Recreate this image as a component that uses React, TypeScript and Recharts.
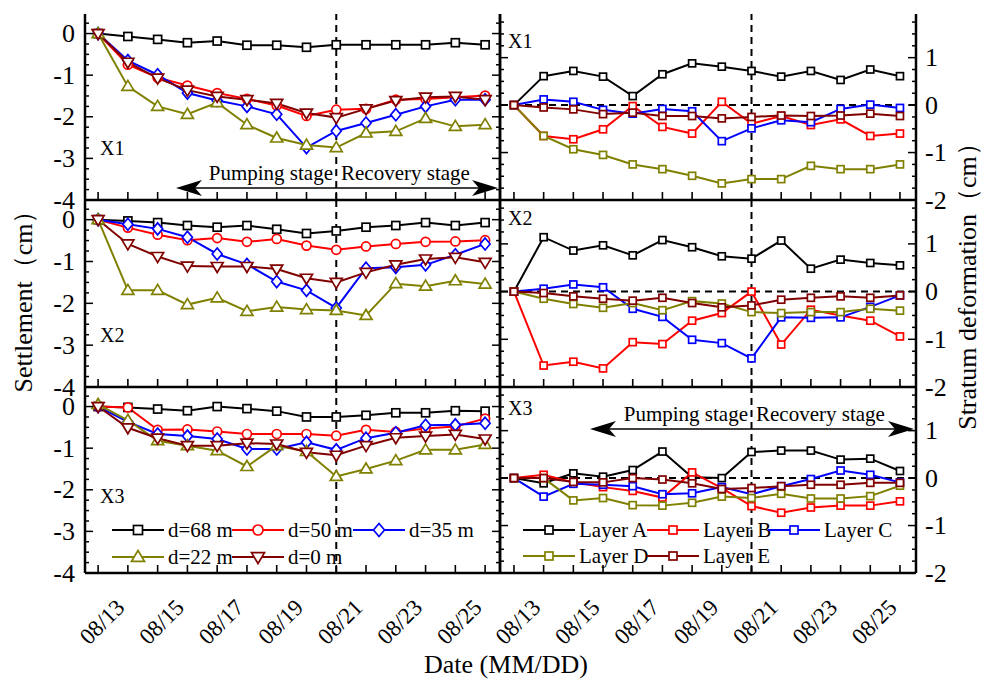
import React from "react";
import { LineChart, Line, XAxis, YAxis, ReferenceLine } from "recharts";

const FONT = "'Liberation Serif', 'Times New Roman', serif";

// days 08/13 .. 08/26, one reading per day
const dates = ["08/13", "08/14", "08/15", "08/16", "08/17", "08/18", "08/19", "08/20", "08/21", "08/22", "08/23", "08/24", "08/25", "08/26"];
const dayIndex = dates.map((_, i) => i);
const recoveryDay = 8; // 08/21

// settlement (cm), X1
const x1_d68 = [0, -0.07, -0.14, -0.22, -0.18, -0.28, -0.28, -0.33, -0.27, -0.27, -0.27, -0.27, -0.22, -0.27];
const x1_d50 = [0, -0.75, -1.06, -1.25, -1.43, -1.57, -1.73, -1.98, -1.83, -1.81, -1.59, -1.57, -1.53, -1.49];
const x1_d35 = [0, -0.65, -0.99, -1.43, -1.61, -1.75, -1.94, -2.74, -2.34, -2.15, -1.95, -1.75, -1.59, -1.59];
const x1_d22 = [0, -1.27, -1.75, -1.94, -1.66, -2.19, -2.51, -2.68, -2.74, -2.39, -2.35, -2.04, -2.23, -2.19];
const x1_d0 = [0, -0.69, -1.07, -1.36, -1.51, -1.59, -1.68, -1.91, -2.02, -1.81, -1.61, -1.53, -1.51, -1.59];

// settlement (cm), X2
const x2_d68 = [0, -0.03, -0.07, -0.14, -0.18, -0.14, -0.23, -0.33, -0.27, -0.18, -0.14, -0.07, -0.14, -0.07];
const x2_d50 = [0, -0.19, -0.36, -0.49, -0.44, -0.53, -0.46, -0.62, -0.72, -0.64, -0.58, -0.53, -0.52, -0.49];
const x2_d35 = [0, -0.11, -0.22, -0.42, -0.82, -1.07, -1.48, -1.69, -2.11, -1.16, -1.14, -1.08, -0.84, -0.58];
const x2_d22 = [0, -1.69, -1.69, -2.03, -1.87, -2.19, -2.09, -2.15, -2.17, -2.29, -1.53, -1.59, -1.46, -1.54];
const x2_d0 = [0, -0.58, -0.88, -1.11, -1.12, -1.12, -1.18, -1.4, -1.5, -1.26, -1.08, -0.94, -0.9, -1.02];

// settlement (cm), X3
const x3_d68 = [0, -0.02, -0.06, -0.1, 0, -0.05, -0.11, -0.25, -0.25, -0.21, -0.15, -0.15, -0.1, -0.11];
const x3_d50 = [0, -0.02, -0.56, -0.55, -0.6, -0.66, -0.66, -0.66, -0.7, -0.56, -0.61, -0.53, -0.48, -0.29];
const x3_d35 = [0, -0.37, -0.66, -0.71, -0.78, -1.02, -1.02, -0.86, -1.04, -0.76, -0.63, -0.45, -0.44, -0.4];
const x3_d22 = [0.05, -0.33, -0.82, -0.94, -1.06, -1.44, -0.94, -1.08, -1.68, -1.5, -1.3, -1.04, -1.04, -0.91];
const x3_d0 = [0, -0.51, -0.76, -0.94, -0.94, -0.88, -0.9, -1.1, -1.17, -0.94, -0.75, -0.71, -0.67, -0.78];

// stratum deformation (cm), X1
const x1_A = [0, 0.61, 0.72, 0.6, 0.19, 0.65, 0.88, 0.81, 0.72, 0.6, 0.72, 0.53, 0.75, 0.61];
const x1_B = [0, -0.65, -0.72, -0.51, -0.02, -0.46, -0.6, 0.07, -0.39, -0.23, -0.42, -0.3, -0.65, -0.6];
const x1_C = [0, 0.12, 0.07, -0.1, -0.18, -0.08, -0.13, -0.76, -0.49, -0.32, -0.36, -0.08, 0.01, -0.06];
const x1_D = [0, -0.65, -0.93, -1.05, -1.25, -1.35, -1.49, -1.65, -1.56, -1.56, -1.28, -1.35, -1.35, -1.25];
const x1_E = [0, -0.05, -0.09, -0.19, -0.16, -0.23, -0.23, -0.28, -0.25, -0.22, -0.23, -0.22, -0.18, -0.23];

// stratum deformation (cm), X2
const x2_A = [0, 1.14, 0.86, 0.97, 0.76, 1.08, 0.93, 0.74, 0.69, 1.07, 0.48, 0.67, 0.6, 0.55];
const x2_B = [0, -1.55, -1.47, -1.61, -1.06, -1.1, -0.61, -0.45, 0, -1.11, -0.38, -0.5, -0.61, -0.94];
const x2_C = [0, 0.06, 0.15, 0.09, -0.36, -0.53, -1.01, -1.08, -1.4, -0.54, -0.55, -0.54, -0.32, -0.08];
const x2_D = [0, -0.15, -0.26, -0.34, -0.24, -0.39, -0.2, -0.25, -0.43, -0.45, -0.43, -0.43, -0.36, -0.4];
const x2_E = [0, -0.03, -0.1, -0.15, -0.19, -0.13, -0.24, -0.33, -0.29, -0.17, -0.13, -0.1, -0.13, -0.08];

// stratum deformation (cm), X3
const x3_A = [0, -0.11, 0.1, 0.03, 0.17, 0.56, 0.02, 0, 0.55, 0.58, 0.58, 0.39, 0.41, 0.15];
const x3_B = [0, 0.07, -0.09, -0.19, -0.27, -0.41, 0.12, -0.21, -0.59, -0.73, -0.62, -0.58, -0.58, -0.49];
const x3_C = [0, -0.39, -0.12, -0.14, -0.17, -0.34, -0.32, -0.19, -0.34, -0.17, -0.02, 0.16, 0.07, -0.09];
const x3_D = [0, 0, -0.47, -0.42, -0.57, -0.58, -0.52, -0.39, -0.42, -0.33, -0.43, -0.43, -0.38, -0.16];
const x3_E = [0, 0, -0.08, -0.09, 0, -0.03, -0.11, -0.23, -0.21, -0.17, -0.14, -0.14, -0.1, -0.1];

type Shape = "square" | "circle" | "diamond" | "up" | "down";
type Series = { key: string; name: string; color: string; shape: Shape };

const settleSeries: Series[] = [
  { key: "d68", name: "d=68 m", color: "#000000", shape: "square" },
  { key: "d50", name: "d=50 m", color: "#ff0000", shape: "circle" },
  { key: "d35", name: "d=35 m", color: "#0000ff", shape: "diamond" },
  { key: "d22", name: "d=22 m", color: "#808000", shape: "up" },
  { key: "d0", name: "d=0 m", color: "#800000", shape: "down" },
];

const layerSeries: Series[] = [
  { key: "A", name: "Layer A", color: "#000000", shape: "square" },
  { key: "B", name: "Layer B", color: "#ff0000", shape: "square" },
  { key: "C", name: "Layer C", color: "#0000ff", shape: "square" },
  { key: "D", name: "Layer D", color: "#808000", shape: "square" },
  { key: "E", name: "Layer E", color: "#800000", shape: "square" },
];

const rows = (cols: Record<string, number[]>) =>
  dayIndex.map((i) => {
    const r: Record<string, number> = { i };
    Object.keys(cols).forEach((k) => (r[k] = cols[k][i]));
    return r;
  });

const settleRows = [
  rows({ d68: x1_d68, d50: x1_d50, d35: x1_d35, d22: x1_d22, d0: x1_d0 }),
  rows({ d68: x2_d68, d50: x2_d50, d35: x2_d35, d22: x2_d22, d0: x2_d0 }),
  rows({ d68: x3_d68, d50: x3_d50, d35: x3_d35, d22: x3_d22, d0: x3_d0 }),
];
const layerRows = [
  rows({ A: x1_A, B: x1_B, C: x1_C, D: x1_D, E: x1_E }),
  rows({ A: x2_A, B: x2_B, C: x2_C, D: x2_D, E: x2_E }),
  rows({ A: x3_A, B: x3_B, C: x3_C, D: x3_D, E: x3_E }),
];

const rowTops = [14, 200, 387];
const rowHeights = [186, 187, 186];

function Marker({ shape, cx, cy, color, s }: { shape: Shape; cx: number; cy: number; color: string; s: number }) {
  const p = { fill: "#fff", stroke: color, strokeWidth: 1.7 };
  const r = s / 2;
  if (shape === "square") return <rect x={cx - r} y={cy - r} width={s} height={s} {...p} />;
  if (shape === "circle") return <circle cx={cx} cy={cy} r={r} {...p} />;
  if (shape === "diamond") return <path d={`M${cx},${cy - r - 1}L${cx + r},${cy}L${cx},${cy + r + 1}L${cx - r},${cy}Z`} {...p} />;
  if (shape === "up") return <path d={`M${cx},${cy - r - 1}L${cx + r + 1},${cy + r * 0.8}L${cx - r - 1},${cy + r * 0.8}Z`} {...p} />;
  return <path d={`M${cx},${cy + r + 1}L${cx + r + 1},${cy - r * 0.8}L${cx - r - 1},${cy - r * 0.8}Z`} {...p} />;
}

const markerSize = (s: Shape, right: boolean) => (right ? 7 : s === "square" ? 8 : s === "circle" ? 9 : 10);

const tickText = { fontFamily: FONT, fontSize: 26, fill: "#000" };

function BottomTick(props: any) {
  const { x, y, payload, labels } = props;
  const i = payload.value;
  return (
    <g>
      <line x1={x} x2={x} y1={y} y2={y - 8} stroke="#000" strokeWidth={1.6} />
      {labels && i % 2 === 0 && (
        <text transform={`translate(${x + 4},${y + 49}) rotate(-45)`} textAnchor="middle" dominantBaseline="central" fontFamily={FONT} fontSize={23}>
          {dates[i]}
        </text>
      )}
    </g>
  );
}

function TopTick(props: any) {
  const { x, y } = props;
  return <line x1={x} x2={x} y1={y} y2={y + 8} stroke="#000" strokeWidth={1.6} />;
}

function SideTick(props: any) {
  const { x, y, payload, dir, labels, align } = props;
  const v = payload.value;
  const major = Math.abs(v - Math.round(v)) < 1e-6;
  const len = major ? 8 : 4;
  return (
    <g>
      <line x1={x} x2={x + dir * len} y1={y} y2={y} stroke="#000" strokeWidth={1.5} />
      {labels && major && (
        <text x={align === "end" ? x - 10 : x + 9} y={y} textAnchor={align} dominantBaseline="central" {...tickText}>
          {v}
        </text>
      )}
    </g>
  );
}

const quarterTicks = (lo: number, hi: number) => {
  const t: number[] = [];
  for (let k = Math.round(lo * 4); k <= Math.round(hi * 4); k++) t.push(k / 4);
  return t;
};

function Panel({ right, row }: { right: boolean; row: number }) {
  const plotLeft = right ? 500 : 85;
  const w = right ? 416 : 415;
  const top = rowTops[row];
  const h = rowHeights[row];
  const ML = 60, MR = 70, MT = 10, MB = 90;
  const xDomain: [number, number] = right ? [-0.47, 13.54] : [-0.44, 13.5];
  const yDomain: [number, number] = right ? [-2, 1.92] : [-4, 0.47];
  const yTicks = right ? quarterTicks(-2, 1.75) : quarterTicks(-4, 0.25);
  const series = right ? layerSeries : settleSeries;
  const data = right ? layerRows[row] : settleRows[row];
  const bottom = row === 2;
  const axisLine = { stroke: "#000", strokeWidth: 2.5 };
  const yId = right ? "r" : "l";
  return (
    <div style={{ position: "absolute", left: plotLeft - ML, top: top - MT }}>
      <LineChart width={w + ML + MR} height={h + MT + MB} data={data} margin={{ top: MT, right: 0, bottom: 0, left: 0 }}>
        <XAxis xAxisId="b" dataKey="i" type="number" domain={xDomain} ticks={dayIndex} interval={0} allowDataOverflow
          tickSize={0} tickMargin={0} tickLine={false} axisLine={axisLine} height={MB}
          tick={(p: any) => <BottomTick {...p} labels={bottom} />} />
        <XAxis xAxisId="t" orientation="top" dataKey="i" type="number" domain={xDomain} ticks={dayIndex} interval={0} allowDataOverflow
          tickSize={0} tickMargin={0} tickLine={false} axisLine={axisLine} height={0}
          tick={(p: any) => <TopTick {...p} />} />
        <YAxis yAxisId="l" type="number" domain={yDomain} ticks={yTicks} interval={0} allowDataOverflow
          tickSize={0} tickMargin={0} tickLine={false} axisLine={axisLine} width={ML}
          tick={(p: any) => <SideTick {...p} dir={1} labels={!right} align="end" />} />
        <YAxis yAxisId="r" orientation="right" type="number" domain={yDomain} ticks={yTicks} interval={0} allowDataOverflow
          tickSize={0} tickMargin={0} tickLine={false} axisLine={axisLine} width={MR}
          tick={(p: any) => <SideTick {...p} dir={-1} labels={right} align="start" />} />
        {right && (
          <ReferenceLine xAxisId="b" yAxisId="r" y={0} stroke="#000" strokeWidth={2} strokeDasharray="7 5" />
        )}
        <ReferenceLine xAxisId="b" yAxisId={yId} x={recoveryDay} stroke="#000" strokeWidth={2} strokeDasharray="7 5" />
        {series.map((s) => (
          <Line key={s.key} xAxisId="b" yAxisId={yId} dataKey={s.key} name={s.name} type="linear"
            stroke={s.color} strokeWidth={2} isAnimationActive={false}
            dot={(p: any) => (
              <Marker key={`${s.key}-${p.index}`} shape={s.shape} cx={p.cx} cy={p.cy} color={s.color} s={markerSize(s.shape, right)} />
            )} />
        ))}
      </LineChart>
    </div>
  );
}

function Arrowhead({ x, y, dir }: { x: number; y: number; dir: number }) {
  return <path d={`M${x},${y}L${x - dir * 26},${y - 8}L${x - dir * 19},${y}L${x - dir * 26},${y + 8}Z`} fill="#000" />;
}

function StageArrow({ x1, x2, y, split }: { x1: number; x2: number; y: number; split: number }) {
  return (
    <g>
      <line x1={x1 + 10} x2={x2 - 10} y1={y} y2={y} stroke="#000" strokeWidth={1.5} />
      <Arrowhead x={x1} y={y} dir={-1} />
      <Arrowhead x={x2} y={y} dir={1} />
      <text x={split - 4} y={y - 8} textAnchor="end" fontFamily={FONT} fontSize={21}>Pumping stage</text>
      <text x={split + 4} y={y - 8} textAnchor="start" fontFamily={FONT} fontSize={21}>Recovery stage</text>
    </g>
  );
}

function LegendRow({ items, x0, step, y, right }: { items: Series[]; x0: number; step: number[]; y: number; right: boolean }) {
  let x = x0;
  return (
    <g>
      {items.map((s, k) => {
        const sx = x;
        x += step[k] ?? 0;
        return (
          <g key={s.key}>
            <line x1={sx} x2={sx + 52} y1={y} y2={y} stroke={s.color} strokeWidth={2} />
            <Marker shape={s.shape} cx={sx + 26} cy={y} color={s.color} s={markerSize(s.shape, right) + 1} />
            <text x={sx + 56} y={y} dominantBaseline="central" fontFamily={FONT} fontSize={21}>{s.name}</text>
          </g>
        );
      })}
    </g>
  );
}

export default function App() {
  const panelLabels = ["X1", "X2", "X3"];
  const leftLabelY = [155, 342, 503];
  const rightLabelY = [48, 225, 415];
  return (
    <div style={{ position: "absolute", left: 0, top: 0, width: 984, height: 682, background: "#fff", overflow: "hidden" }}>
      {[0, 1, 2].map((r) => (
        <React.Fragment key={r}>
          <Panel right={false} row={r} />
          <Panel right={true} row={r} />
        </React.Fragment>
      ))}
      <svg width={984} height={682} style={{ position: "absolute", left: 0, top: 0, pointerEvents: "none" }}>
        {panelLabels.map((t, k) => (
          <g key={t}>
            <text x={100} y={leftLabelY[k]} fontFamily={FONT} fontSize={20}>{t}</text>
            <text x={508} y={rightLabelY[k]} fontFamily={FONT} fontSize={20}>{t}</text>
          </g>
        ))}
        <StageArrow x1={176} x2={498} y={188} split={337} />
        <StageArrow x1={590} x2={914} y={429} split={752} />
        <LegendRow items={settleSeries.slice(0, 3)} x0={112} step={[120, 121]} y={530} right={false} />
        <LegendRow items={settleSeries.slice(3)} x0={112} step={[120]} y={557} right={false} />
        <LegendRow items={layerSeries.slice(0, 3)} x0={523} step={[124, 121]} y={530} right={true} />
        <LegendRow items={layerSeries.slice(3)} x0={523} step={[124]} y={556} right={true} />
        <text transform="translate(32,295) rotate(-90)" textAnchor="middle" fontFamily={FONT} fontSize={26}>Settlement（cm）</text>
        <text transform="translate(976,280) rotate(-90)" textAnchor="middle" fontFamily={FONT} fontSize={26}>Stratum deformation（cm）</text>
        <text x={506} y={673} textAnchor="middle" fontFamily={FONT} fontSize={26}>Date (MM/DD)</text>
      </svg>
    </div>
  );
}
